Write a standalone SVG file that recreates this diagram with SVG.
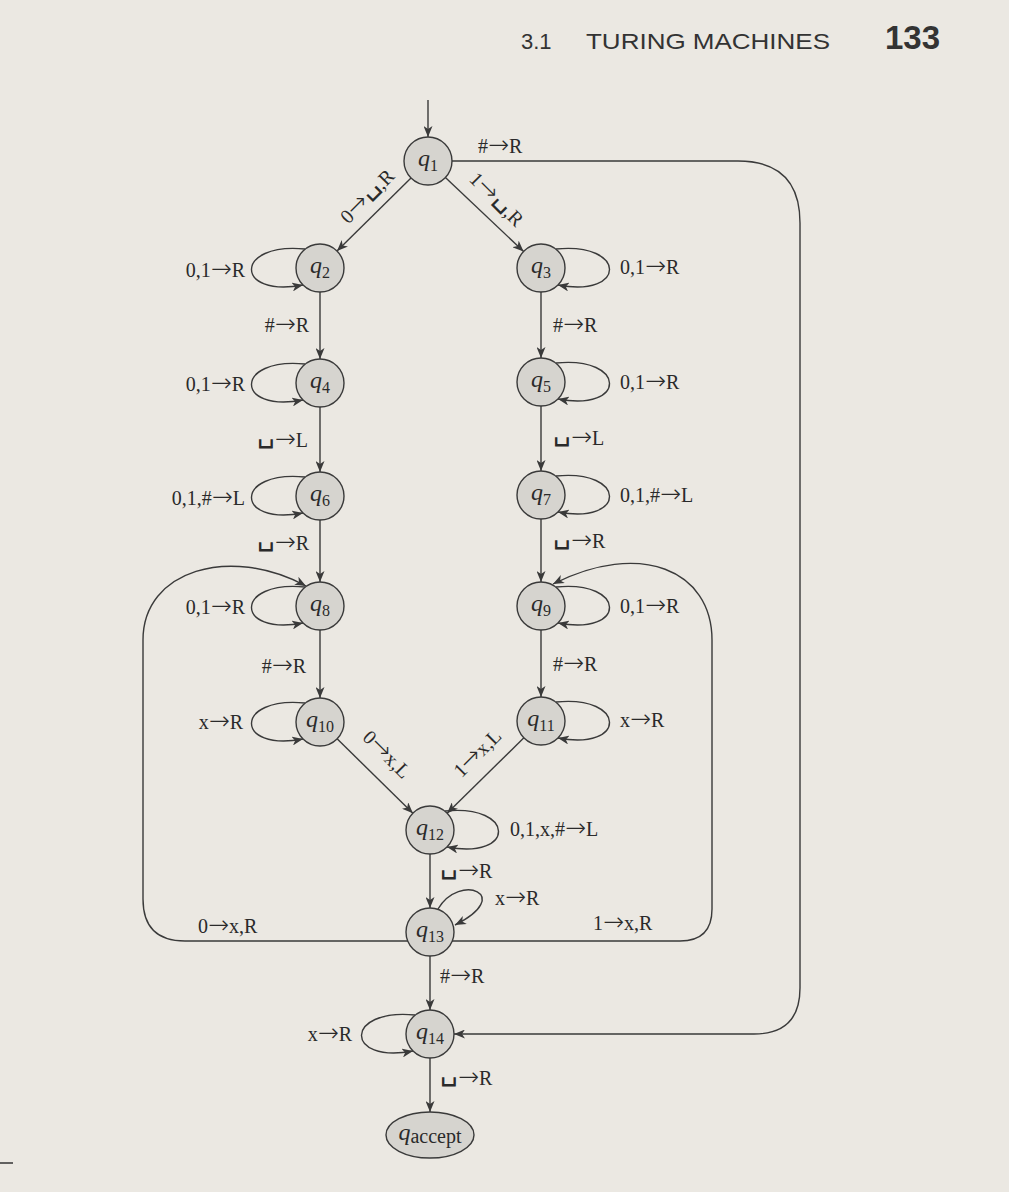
<svg xmlns="http://www.w3.org/2000/svg" width="1009" height="1192" viewBox="0 0 1009 1192">
<style>
.bg{fill:#ebe8e2}
.edge{fill:none;stroke:#3a3a3a;stroke-width:1.4}
.node{fill:#d6d4cf;stroke:#3a3a3a;stroke-width:1.4}
.lbl{font-family:"Liberation Serif","DejaVu Serif",serif;font-size:20px;fill:#2a2a2a}
.a{font-family:"DejaVu Sans",sans-serif;font-size:25px;font-weight:200}
.b{font-family:"DejaVu Sans",sans-serif;font-size:28px;font-weight:200}
.ql{font-family:"Liberation Serif","DejaVu Serif",serif;font-size:24px;fill:#2a2a2a;text-anchor:middle}
.qi{font-style:italic}
.sub{font-size:16px}
.end{text-anchor:end}
.mid{text-anchor:middle}
.hdr{font-family:"Liberation Sans","DejaVu Sans",sans-serif;fill:#333}
</style>
<defs>
<marker id="arr" markerUnits="userSpaceOnUse" markerWidth="12" markerHeight="9" refX="11" refY="4.5" orient="auto">
<path d="M0,0 L11,4.5 L0,9 L3,4.5 z" fill="#3a3a3a"/>
</marker>
</defs>
<rect class="bg" x="0" y="0" width="1009" height="1192"/>
<g id="header">
<text class="hdr" x="521" y="49" font-size="22">3.1</text>
<text class="hdr" x="586" y="49" font-size="22" textLength="244" lengthAdjust="spacingAndGlyphs">TURING MACHINES</text>
<text class="hdr" x="940" y="49" font-size="33" font-weight="bold" text-anchor="end">133</text>
</g>
<line x1="0" y1="1163" x2="13" y2="1163" stroke="#333" stroke-width="1.5"/>
<g id="connectors">
<path class="edge" marker-end="url(#arr)" d="M428,100 V137"/>
<path class="edge" marker-end="url(#arr)" d="M411,178 L337,251"/>
<path class="edge" marker-end="url(#arr)" d="M445.4,177.5 L523.6,251.5"/>
<path class="edge" marker-end="url(#arr)" d="M320,292 V359"/>
<path class="edge" marker-end="url(#arr)" d="M541,292 V358"/>
<path class="edge" marker-end="url(#arr)" d="M320,407 V472"/>
<path class="edge" marker-end="url(#arr)" d="M541,406 V471"/>
<path class="edge" marker-end="url(#arr)" d="M320,520 V582"/>
<path class="edge" marker-end="url(#arr)" d="M541,519 V582"/>
<path class="edge" marker-end="url(#arr)" d="M320,630 V698"/>
<path class="edge" marker-end="url(#arr)" d="M541,630 V697"/>
<path class="edge" marker-end="url(#arr)" d="M337.1,738.8 L412.9,813.2"/>
<path class="edge" marker-end="url(#arr)" d="M523.9,737.8 L447.1,813.2"/>
<path class="edge" marker-end="url(#arr)" d="M430,854 V908"/>
<path class="edge" marker-end="url(#arr)" d="M430,956 V1010"/>
<path class="edge" marker-end="url(#arr)" d="M430,1058 V1112"/>
<path class="edge" marker-end="url(#arr)" d="M452,161 H738 Q800,161 800,223 V988 Q800,1034 754,1034 H454"/>
<path class="edge" marker-end="url(#arr)" d="M452,941 H680 Q712,941 712,909 V640 C712,570 640,540 553,584"/>
<path class="edge" marker-end="url(#arr)" d="M408,941 H185 Q143,941 143,899 V640 C143,570 230,545 306,586"/>
<path class="edge" marker-end="url(#arr)" d="M305,249 C234,242 234,298 303,285"/>
<path class="edge" marker-end="url(#arr)" d="M305,364 C234,357 234,413 303,400"/>
<path class="edge" marker-end="url(#arr)" d="M305,477 C234,470 234,526 303,513"/>
<path class="edge" marker-end="url(#arr)" d="M305,587 C234,580 234,636 303,623"/>
<path class="edge" marker-end="url(#arr)" d="M305,703 C234,696 234,752 303,739"/>
<path class="edge" marker-end="url(#arr)" d="M415,1015 C344,1008 344,1064 413,1051"/>
<path class="edge" marker-end="url(#arr)" d="M556,249 C627,242 627,298 558,285"/>
<path class="edge" marker-end="url(#arr)" d="M556,363 C627,356 627,412 558,399"/>
<path class="edge" marker-end="url(#arr)" d="M556,476 C627,469 627,525 558,512"/>
<path class="edge" marker-end="url(#arr)" d="M556,587 C627,580 627,636 558,623"/>
<path class="edge" marker-end="url(#arr)" d="M556,702 C627,695 627,751 558,738"/>
<path class="edge" marker-end="url(#arr)" d="M445,811 C516,804 516,860 447,847"/>
<path class="edge" marker-end="url(#arr)" d="M438,909 C460,872 515,895 455,925"/>
</g>
<g id="edge-labels" class="lbl">
<text x="478" y="153">#<tspan class="a">→</tspan>R</text>
<g transform="translate(372,201) rotate(-45)"><text class="mid" y="0">0<tspan class="a">→</tspan><tspan class="b" dy="-5">␣</tspan><tspan dy="5">,R</tspan></text></g>
<g transform="translate(492,204) rotate(45)"><text class="mid" y="0">1<tspan class="a">→</tspan><tspan class="b" dy="-5">␣</tspan><tspan dy="5">,R</tspan></text></g>
<text class="end" x="245" y="277">0,1<tspan class="a">→</tspan>R</text>
<text class="end" x="245" y="391">0,1<tspan class="a">→</tspan>R</text>
<text class="end" x="245" y="505">0,1,#<tspan class="a">→</tspan>L</text>
<text class="end" x="245" y="614">0,1<tspan class="a">→</tspan>R</text>
<text class="end" x="243" y="729">x<tspan class="a">→</tspan>R</text>
<text class="end" x="352" y="1041">x<tspan class="a">→</tspan>R</text>
<text class="end" x="309" y="332">#<tspan class="a">→</tspan>R</text>
<text class="end" x="308" y="447"><tspan class="b" dy="-5">␣</tspan><tspan class="a" dy="5">→</tspan>L</text>
<text class="end" x="309" y="550"><tspan class="b" dy="-5">␣</tspan><tspan class="a" dy="5">→</tspan>R</text>
<text class="end" x="306" y="673">#<tspan class="a">→</tspan>R</text>
<text x="198" y="933">0<tspan class="a">→</tspan>x,R</text>
<text x="620" y="274">0,1<tspan class="a">→</tspan>R</text>
<text x="553" y="332">#<tspan class="a">→</tspan>R</text>
<text x="620" y="389">0,1<tspan class="a">→</tspan>R</text>
<text x="553" y="445"><tspan class="b" dy="-5">␣</tspan><tspan class="a" dy="5">→</tspan>L</text>
<text x="620" y="502">0,1,#<tspan class="a">→</tspan>L</text>
<text x="553" y="548"><tspan class="b" dy="-5">␣</tspan><tspan class="a" dy="5">→</tspan>R</text>
<text x="620" y="613">0,1<tspan class="a">→</tspan>R</text>
<text x="553" y="671">#<tspan class="a">→</tspan>R</text>
<text x="620" y="727">x<tspan class="a">→</tspan>R</text>
<text x="510" y="836">0,1,x,#<tspan class="a">→</tspan>L</text>
<text x="440" y="878"><tspan class="b" dy="-5">␣</tspan><tspan class="a" dy="5">→</tspan>R</text>
<text x="495" y="905">x<tspan class="a">→</tspan>R</text>
<text x="593" y="930">1<tspan class="a">→</tspan>x,R</text>
<text x="440" y="983">#<tspan class="a">→</tspan>R</text>
<text x="440" y="1085"><tspan class="b" dy="-5">␣</tspan><tspan class="a" dy="5">→</tspan>R</text>
<g transform="translate(382,759) rotate(45)"><text class="mid" y="0">0<tspan class="a">→</tspan>x,L</text></g>
<g transform="translate(482,758) rotate(-45)"><text class="mid" y="0">1<tspan class="a">→</tspan>x,L</text></g>
</g>
<g id="q1"><circle class="node" cx="428" cy="161" r="24"/><text class="ql" x="428" y="166"><tspan class="qi">q</tspan><tspan class="sub" dy="5">1</tspan></text></g>
<g id="q2"><circle class="node" cx="320" cy="268" r="24"/><text class="ql" x="320" y="273"><tspan class="qi">q</tspan><tspan class="sub" dy="5">2</tspan></text></g>
<g id="q3"><circle class="node" cx="541" cy="268" r="24"/><text class="ql" x="541" y="273"><tspan class="qi">q</tspan><tspan class="sub" dy="5">3</tspan></text></g>
<g id="q4"><circle class="node" cx="320" cy="383" r="24"/><text class="ql" x="320" y="388"><tspan class="qi">q</tspan><tspan class="sub" dy="5">4</tspan></text></g>
<g id="q5"><circle class="node" cx="541" cy="382" r="24"/><text class="ql" x="541" y="387"><tspan class="qi">q</tspan><tspan class="sub" dy="5">5</tspan></text></g>
<g id="q6"><circle class="node" cx="320" cy="496" r="24"/><text class="ql" x="320" y="501"><tspan class="qi">q</tspan><tspan class="sub" dy="5">6</tspan></text></g>
<g id="q7"><circle class="node" cx="541" cy="495" r="24"/><text class="ql" x="541" y="500"><tspan class="qi">q</tspan><tspan class="sub" dy="5">7</tspan></text></g>
<g id="q8"><circle class="node" cx="320" cy="606" r="24"/><text class="ql" x="320" y="611"><tspan class="qi">q</tspan><tspan class="sub" dy="5">8</tspan></text></g>
<g id="q9"><circle class="node" cx="541" cy="606" r="24"/><text class="ql" x="541" y="611"><tspan class="qi">q</tspan><tspan class="sub" dy="5">9</tspan></text></g>
<g id="q10"><circle class="node" cx="320" cy="722" r="24"/><text class="ql" x="320" y="727"><tspan class="qi">q</tspan><tspan class="sub" dy="5">10</tspan></text></g>
<g id="q11"><circle class="node" cx="541" cy="721" r="24"/><text class="ql" x="541" y="726"><tspan class="qi">q</tspan><tspan class="sub" dy="5">11</tspan></text></g>
<g id="q12"><circle class="node" cx="430" cy="830" r="24"/><text class="ql" x="430" y="835"><tspan class="qi">q</tspan><tspan class="sub" dy="5">12</tspan></text></g>
<g id="q13"><circle class="node" cx="430" cy="932" r="24"/><text class="ql" x="430" y="937"><tspan class="qi">q</tspan><tspan class="sub" dy="5">13</tspan></text></g>
<g id="q14"><circle class="node" cx="430" cy="1034" r="24"/><text class="ql" x="430" y="1039"><tspan class="qi">q</tspan><tspan class="sub" dy="5">14</tspan></text></g>
<g id="qaccept"><ellipse class="node" cx="430" cy="1135" rx="44" ry="23"/><text class="ql" x="430" y="1140"><tspan class="qi">q</tspan><tspan font-size="20" dy="3">accept</tspan></text></g>
</svg>
